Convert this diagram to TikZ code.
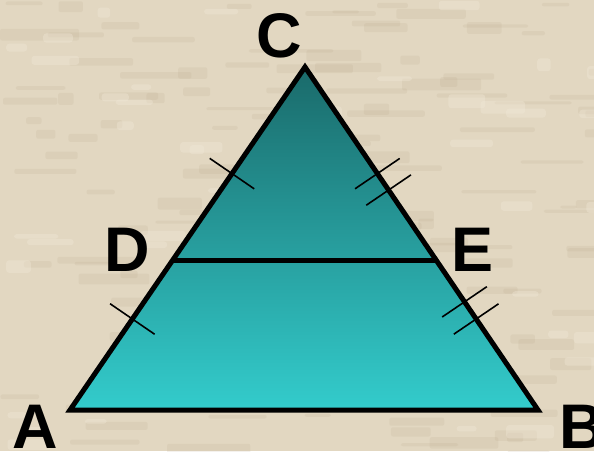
\documentclass[tikz,border=0pt]{standalone}
\usepackage{fontspec}
\setmainfont{Liberation Sans}
\usetikzlibrary{calc}
\definecolor{parchment}{HTML}{E2D7C1}
\definecolor{parchmentdark}{HTML}{B9A98C}
\definecolor{parchmentlight}{HTML}{F2EADA}
\definecolor{tealtop}{HTML}{1A6A6A}
\definecolor{tealbottom}{HTML}{33CCCC}
\tikzstyle{vertexlabel} = [
    font=\fontsize{63}{63}\selectfont\bfseries,
    inner sep=0pt,
    text=black
]
\tikzstyle{side} = [
    line width=5pt,
    line join=miter,
    draw=black
]
\tikzstyle{tickmark} = [line width=1.6pt, draw=black]
\tikzstyle{grain} = [fill=parchmentdark, opacity=0.16]
\tikzstyle{sheen} = [fill=parchmentlight, opacity=0.35]

\begin{document}
\begin{tikzpicture}[x=1pt, y=-1pt]

% parchment background
\fill [parchment] (0,0) rectangle (594,451);
\useasboundingbox (0,0) rectangle (594,451);
\pgfmathsetseed{11}
\foreach \i in {1,...,150} {
    \pgfmathsetmacro{\gx}{594*rnd}
    \pgfmathsetmacro{\gy}{451*rnd}
    \pgfmathsetmacro{\gw}{15+70*rnd}
    \pgfmathsetmacro{\gh}{3+9*rnd}
    \fill [grain, rounded corners=2pt] (\gx,\gy) rectangle ++(\gw,\gh);
}
\foreach \i in {1,...,60} {
    \pgfmathsetmacro{\gx}{594*rnd}
    \pgfmathsetmacro{\gy}{451*rnd}
    \pgfmathsetmacro{\gw}{10+40*rnd}
    \pgfmathsetmacro{\gh}{4+10*rnd}
    \fill [sheen, rounded corners=3pt] (\gx,\gy) rectangle ++(\gw,\gh);
}

% vertices
\coordinate (A) at (70,410);
\coordinate (B) at (538,410);
\coordinate (C) at (305,67);
\coordinate (D) at ($(C)!0.565!(A)$);
\coordinate (E) at ($(C)!0.565!(B)$);

% triangle
\fill [top color=tealtop, bottom color=tealbottom] (A) -- (B) -- (C) -- cycle;
\draw [side] (A) -- (B) -- (C) -- cycle;
\draw [side] (D) -- (E);

% equal segment marks
\coordinate (m1) at ($(C)!0.55!(D)$);
\coordinate (m2) at ($(D)!0.39!(A)$);
\coordinate (m3) at ($(C)!0.55!(E)$);
\coordinate (m4) at ($(C)!0.635!(E)$);
\coordinate (m5) at ($(E)!0.275!(B)$);
\coordinate (m6) at ($(E)!0.39!(B)$);
\draw [tickmark] ($(m1)!27pt!90:(D)$) -- ($(m1)!27pt!-90:(D)$);
\draw [tickmark] ($(m2)!27pt!90:(A)$) -- ($(m2)!27pt!-90:(A)$);
\draw [tickmark] ($(m3)!27pt!90:(E)$) -- ($(m3)!27pt!-90:(E)$);
\draw [tickmark] ($(m4)!27pt!90:(E)$) -- ($(m4)!27pt!-90:(E)$);
\draw [tickmark] ($(m5)!27pt!90:(B)$) -- ($(m5)!27pt!-90:(B)$);
\draw [tickmark] ($(m6)!27pt!90:(B)$) -- ($(m6)!27pt!-90:(B)$);

% labels
\node (labelC) [vertexlabel] at (279,36) {C};
\node (labelD) [vertexlabel] at (127,250) {D};
\node (labelE) [vertexlabel] at (473,250) {E};
\node (labelA) [vertexlabel] at (35,427) {A};
\node (labelB) [vertexlabel] at (582,427) {B};

\end{tikzpicture}
\end{document}
